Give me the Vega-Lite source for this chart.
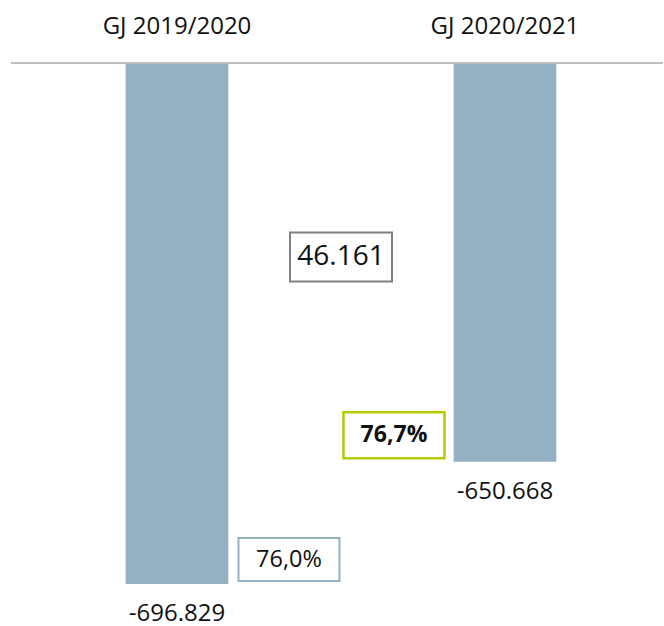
{
  "$schema": "https://vega.github.io/schema/vega-lite/v6.json",
  "width": 664,
  "height": 626,
  "autosize": {"type": "fit", "contains": "padding"},
  "padding": {"left": 10, "right": 0, "top": 0, "bottom": 0},
  "background": "white",
  "config": {
    "view": {"stroke": null},
    "text": {"font": "Open Sans", "color": "#111111"},
    "locale": {"number": {"decimal": ",", "thousands": ".", "grouping": [3], "currency": ["", " €"], "minus": "-", "percent": "%"}}
  },
  "data": {"values": [
    {"year": "GJ 2019/2020", "kind": "bar", "value": -696829, "share": 0.760},
    {"year": "GJ 2020/2021", "kind": "bar", "value": -650668, "share": 0.767},
    {"year": "Differenz", "kind": "diff", "value": 46161}
  ]},
  "layer": [
    {
      "transform": [{"filter": "datum.kind === 'bar'"}],
      "mark": {"type": "bar", "color": "#94B2C3"},
      "encoding": {
        "x": {"field": "year", "type": "nominal", "sort": ["GJ 2019/2020", "Differenz", "GJ 2020/2021"], "scale": {"domain": ["GJ 2019/2020", "Differenz", "GJ 2020/2021"], "paddingInner": 0.3739, "paddingOuter": 0.6748, "align": 0.518}, "axis": null},
        "y": {"field": "value", "type": "quantitative", "scale": {"domain": [-712293, -476245], "zero": false, "nice": false}, "axis": null},
        "y2": {"datum": -500000}
      }
    },
    {
      "mark": {"type": "rule", "color": "#BFBFBF", "strokeWidth": 2},
      "encoding": {
        "y": {"datum": -500000, "type": "quantitative", "scale": {"domain": [-712293, -476245], "zero": false, "nice": false}, "axis": null}
      }
    },
    {
      "transform": [{"filter": "datum.kind === 'bar'"}],
      "mark": {"type": "text", "fontSize": 24, "baseline": "middle", "dy": -36},
      "encoding": {
        "x": {"field": "year", "type": "nominal", "sort": ["GJ 2019/2020", "Differenz", "GJ 2020/2021"], "axis": null},
        "y": {"datum": -500000, "type": "quantitative", "axis": null},
        "text": {"field": "year"}
      }
    },
    {
      "transform": [{"filter": "datum.kind === 'bar'"}],
      "mark": {"type": "text", "fontSize": 24, "baseline": "middle", "dy": 30},
      "encoding": {
        "x": {"field": "year", "type": "nominal", "sort": ["GJ 2019/2020", "Differenz", "GJ 2020/2021"], "axis": null},
        "y": {"field": "value", "type": "quantitative", "axis": null},
        "text": {"field": "value", "type": "quantitative", "format": ",d"}
      }
    },
    {
      "transform": [{"filter": "datum.kind === 'diff'"}],
      "mark": {"type": "point", "shape": "M-1,-0.4804H1V0.4804H-1Z", "size": 10404, "fill": "white", "stroke": "#7F7F7F", "strokeWidth": 2, "opacity": 1, "fillOpacity": 1},
      "encoding": {
        "x": {"field": "year", "type": "nominal", "sort": ["GJ 2019/2020", "Differenz", "GJ 2020/2021"], "axis": null},
        "y": {"datum": -573340, "type": "quantitative", "axis": null}
      }
    },
    {
      "transform": [{"filter": "datum.kind === 'diff'"}],
      "mark": {"type": "text", "fontSize": 28, "baseline": "middle"},
      "encoding": {
        "x": {"field": "year", "type": "nominal", "sort": ["GJ 2019/2020", "Differenz", "GJ 2020/2021"], "axis": null},
        "y": {"datum": -573340, "type": "quantitative", "axis": null},
        "text": {"field": "value", "type": "quantitative", "format": ",d"}
      }
    },
    {
      "transform": [{"filter": "datum.year === 'GJ 2019/2020'"}],
      "mark": {"type": "point", "shape": "M-1,-0.4257H1V0.4257H-1Z", "size": 10201, "fill": "white", "stroke": "#94B2C3", "strokeWidth": 2, "opacity": 1, "fillOpacity": 1, "xOffset": 112, "yOffset": -24.5},
      "encoding": {
        "x": {"field": "year", "type": "nominal", "sort": ["GJ 2019/2020", "Differenz", "GJ 2020/2021"], "axis": null},
        "y": {"field": "value", "type": "quantitative", "axis": null}
      }
    },
    {
      "transform": [{"filter": "datum.year === 'GJ 2019/2020'"}],
      "mark": {"type": "text", "fontSize": 23.5, "baseline": "middle", "xOffset": 112, "yOffset": -24.5},
      "encoding": {
        "x": {"field": "year", "type": "nominal", "sort": ["GJ 2019/2020", "Differenz", "GJ 2020/2021"], "axis": null},
        "y": {"field": "value", "type": "quantitative", "axis": null},
        "text": {"field": "share", "type": "quantitative", "format": ".1%"}
      }
    },
    {
      "transform": [{"filter": "datum.year === 'GJ 2020/2021'"}],
      "mark": {"type": "point", "shape": "M-1,-0.4554H1V0.4554H-1Z", "size": 10201, "fill": "white", "stroke": "#B4CC00", "strokeWidth": 2.5, "opacity": 1, "fillOpacity": 1, "xOffset": -111, "yOffset": -26.6},
      "encoding": {
        "x": {"field": "year", "type": "nominal", "sort": ["GJ 2019/2020", "Differenz", "GJ 2020/2021"], "axis": null},
        "y": {"field": "value", "type": "quantitative", "axis": null}
      }
    },
    {
      "transform": [{"filter": "datum.year === 'GJ 2020/2021'"}],
      "mark": {"type": "text", "fontSize": 23, "fontWeight": "bold", "baseline": "middle", "xOffset": -111, "yOffset": -26.6},
      "encoding": {
        "x": {"field": "year", "type": "nominal", "sort": ["GJ 2019/2020", "Differenz", "GJ 2020/2021"], "axis": null},
        "y": {"field": "value", "type": "quantitative", "axis": null},
        "text": {"field": "share", "type": "quantitative", "format": ".1%"}
      }
    }
  ]
}
